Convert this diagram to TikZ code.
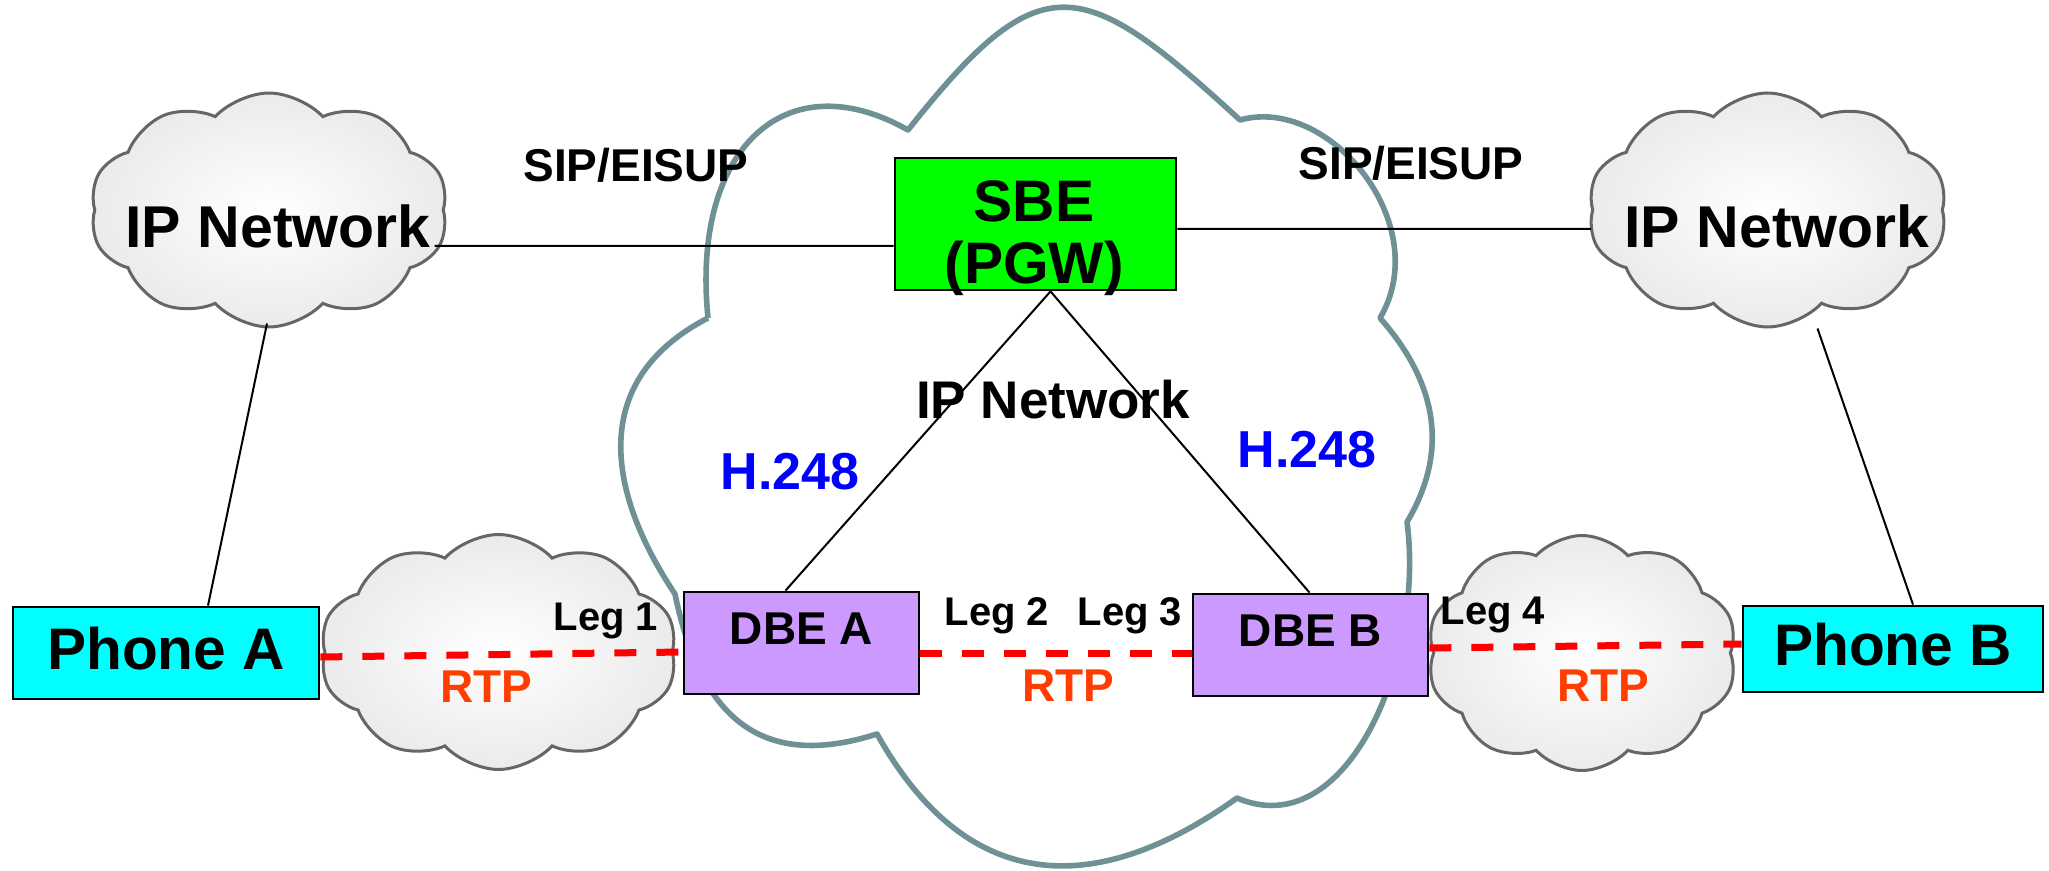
\documentclass[tikz,border=0pt]{standalone}
\usepackage{fontspec}
\setmainfont{Liberation Sans}
\usetikzlibrary{calc,shapes.symbols}

\definecolor{cloudedge}{RGB}{110,145,150}
\definecolor{sbegreen}{RGB}{0,255,0}
\definecolor{dbeviolet}{RGB}{204,153,255}
\definecolor{phonecyan}{RGB}{0,255,255}
\definecolor{megacoblue}{RGB}{0,0,255}
\definecolor{rtporange}{RGB}{255,61,0}
\definecolor{mediared}{RGB}{255,0,0}

\newcommand{\boldsize}[1]{\fontsize{#1}{1.2\dimexpr#1\relax}\selectfont\bfseries}

\begin{document}
\begin{tikzpicture}[x=0.5pt,y=-0.5pt,
  link/.style={draw=black, line width=1pt},
  mediapath/.style={draw=mediared, line width=3.5pt, dash pattern=on 11pt off 10pt},
  netcloud/.style={cloud, cloud puffs=10, cloud puff arc=95, draw=black!60,
    line width=1.5pt, inner color=white, outer color=black!8, inner sep=0pt},
  bigcloud/.style={draw=cloudedge, line width=2.8pt, line join=round},
  box/.style={draw=black, line width=1.4pt, inner sep=0pt},
  phonebox/.style={box, fill=phonecyan, font=\boldsize{29.3pt}, text depth=5pt},
  dbebox/.style={box, fill=dbeviolet, minimum width=117.5pt, minimum height=51pt,
    font=\boldsize{23pt}, text depth=14pt},
  lbl/.style={anchor=base, inner sep=0pt},
  netlbl/.style={lbl, font=\boldsize{29.5pt}},
  siglbl/.style={lbl, font=\boldsize{23pt}},
  h248lbl/.style={lbl, font=\boldsize{26pt}, text=megacoblue},
  leglbl/.style={lbl, font=\boldsize{20pt}},
  rtplbl/.style={lbl, font=\boldsize{23pt}, text=rtporange}
]
\useasboundingbox (0,0) rectangle (2049,871);

% access networks on both sides
\node[netcloud, minimum width=179pt, minimum height=117pt] (ipL) at (269,210) {};
\node[netcloud, minimum width=179.5pt, minimum height=117pt] (ipR) at (1767.5,210) {};
\node[netcloud, minimum width=178.5pt, minimum height=117.5pt] (rtpL) at (498.5,652) {};
\node[netcloud, minimum width=155pt, minimum height=117.5pt] (rtpR) at (1582,653) {};

% core IP network outline
\draw[bigcloud] (708,318)
  .. controls (691,148) and (786,61) .. (908,130)
  .. controls (1041,-38) and (1081,-26) .. (1240,120)
  .. controls (1330,95) and (1435,225) .. (1380,318)
  .. controls (1439,385) and (1448,453) .. (1407,522)
  .. controls (1425,660) and (1347,845) .. (1237,798)
  .. controls (1091,902) and (965,891) .. (877,734)
  .. controls (782,764) and (705,741) .. (675,594)
  .. controls (603,486) and (592,378) .. (708,318);

% network elements
\node[box, fill=sbegreen, minimum width=140.5pt, minimum height=66pt] (sbe) at (1035.5,224) {};
\node[dbebox] (dbeA) at (801.5,643) {DBE A};
\node[dbebox] (dbeB) at (1310.5,645) {DBE B};
\node[phonebox, minimum width=153pt, minimum height=46pt] (phA) at (166,653) {Phone A};
\node[phonebox, minimum width=150pt, minimum height=43pt] (phB) at (1893,649) {Phone B};
\node[lbl, align=center, font={\fontsize{29.3pt}{31pt}\selectfont\bfseries}] (sbetext) at (1034,284) {SBE\\(PGW)};

% signalling links
\coordinate (apex) at ($(sbe.south)+(15,0)$);
\draw[link] ($(sbe.west)+(0,22)$) -- ($(ipL.east)+(-10,36)$);
\draw[link] ($(sbe.east)+(0,5)$) -- ($(ipR.west)+(0,19)$);
\draw[link] ($(ipL.south)+(-2,-5)$) -- ($(phA.north)+(42,0)$);
\draw[link] ($(ipR.south)+(50,0)$) -- ($(phB.north)+(20,0)$);
\draw[link] (apex) -- ($(dbeA.north)+(-16,0)$);
\draw[link] (apex) -- ($(dbeB.north)+(-1,0)$);

% media legs
\draw[mediapath] ($(phA.east)+(0,4)$) -- ($(dbeA.west)+(0,9)$);
\draw[mediapath] ($(dbeA.east)+(0,10)$) -- ($(dbeB.west)+(0,8)$);
\draw[mediapath] ($(dbeB.east)+(0,3)$) -- ($(phB.west)+(0,-5)$);

% labels
\node[netlbl] (ipLtext) at (278,248) {IP Network};
\node[netlbl] (ipRtext) at (1777,248) {IP Network};
\node[lbl, font=\boldsize{26.5pt}] (coretext) at (1053,418) {IP Network};
\node[siglbl] (sipL) at (636,182) {SIP/EISUP};
\node[siglbl] (sipR) at (1411,180) {SIP/EISUP};
\node[h248lbl] (h248L) at (790,489) {H.248};
\node[h248lbl] (h248R) at (1307,467) {H.248};
\node[leglbl] (leg1) at (606,630) {Leg 1};
\node[leglbl] (leg2) at (997,625) {Leg 2};
\node[leglbl] (leg3) at (1130,625) {Leg 3};
\node[leglbl] (leg4) at (1493,624) {Leg 4};
\node[rtplbl] (rtpA) at (486,702) {RTP};
\node[rtplbl] (rtpB) at (1068,701) {RTP};
\node[rtplbl] (rtpC) at (1603,701) {RTP};
\end{tikzpicture}
\end{document}
